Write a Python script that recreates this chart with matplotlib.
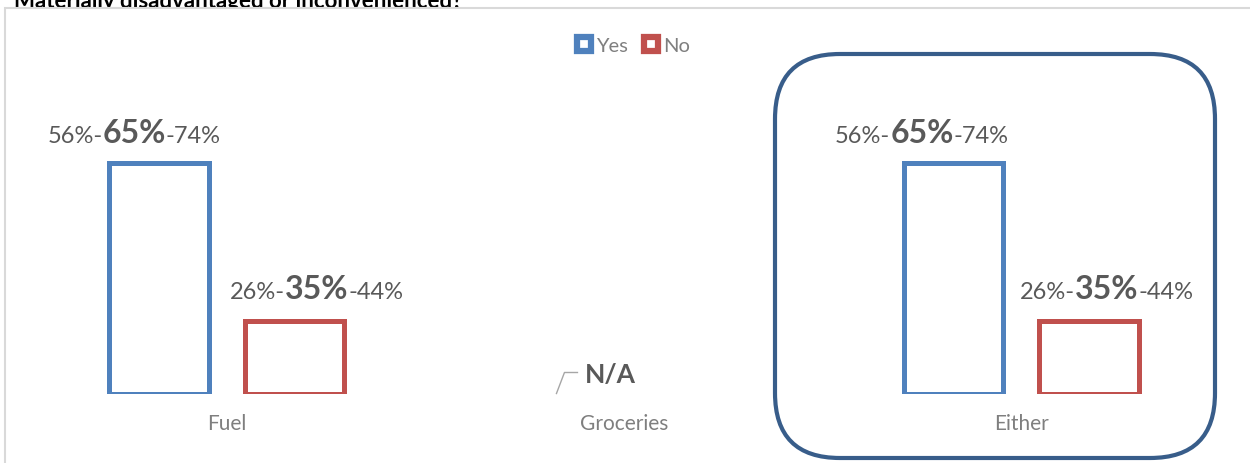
import matplotlib
matplotlib.use("Agg")
import matplotlib.pyplot as plt
from matplotlib.lines import Line2D
from matplotlib.patches import FancyBboxPatch, Rectangle
from matplotlib.transforms import IdentityTransform

# ---------------- data ----------------
title = "Materially disadvantaged or inconvenienced?"
categories = ["Fuel", "Groceries", "Either"]
series_names = ["Yes", "No"]
yes_values = [65, 0, 65]
no_values = [35, 0, 35]
yes_low = [56, None, 56]
yes_high = [74, None, 74]
no_low = [26, None, 26]
no_high = [44, None, 44]
na_label = "N/A"

# ---------------- style ----------------
FONT = "Lato"
W, H, DPI = 1250, 464, 100
BLUE = "#4F81BD"
RED = "#C0504D"
NAVY = "#385D8A"
LABEL_GREY = "#595959"
AXIS_GREY = "#7F7F7F"
YMIN, YMAX = 21.3, 88.6
BAR_W = 0.25
OFF = 0.17

plt.rcParams["font.family"] = [FONT, "DejaVu Sans"]

fig = plt.figure(figsize=(W / DPI, H / DPI), dpi=DPI)
fig.patch.set_facecolor("white")

# title (partly hidden behind the chart frame, as in the reference)
fig.text(14 / W, 1 - 8.5 / H, title, fontsize=16, fontweight="bold",
         color="black", ha="left", va="baseline", zorder=0.5)

# chart frame (white fill hides the lower part of the title)
frame = Rectangle((5, -20), 1300, (H - 9) + 20, transform=IdentityTransform(),
                  facecolor="white", edgecolor="#D9D9D9", linewidth=1.5, zorder=1)
fig.add_artist(frame)

# axes
ax_left, ax_right = 28, 1220
ax_bottom_px, ax_top_px = 394.5, 40
ax = fig.add_axes([ax_left / W, (H - ax_bottom_px) / H,
                   (ax_right - ax_left) / W, (ax_bottom_px - ax_top_px) / H])
ax.set_zorder(2)
ax.patch.set_visible(False)
ax.set_xlim(-0.5, len(categories) - 0.5)
ax.set_ylim(YMIN, YMAX)
for s in ax.spines.values():
    s.set_visible(False)
ax.set_yticks([])
ax.set_xticks(range(len(categories)))
ax.set_xticklabels(categories, fontsize=15, color=AXIS_GREY)
ax.tick_params(axis="x", length=0, pad=14)

xs = list(range(len(categories)))
for i, (yv, nv) in enumerate(zip(yes_values, no_values)):
    if yv > 0:
        ax.bar(xs[i] - OFF, yv - YMIN, bottom=YMIN, width=BAR_W, facecolor="white",
               edgecolor=BLUE, linewidth=3.6)
    if nv > 0:
        ax.bar(xs[i] + OFF, nv - YMIN, bottom=YMIN, width=BAR_W, facecolor="white",
               edgecolor=RED, linewidth=3.6)

renderer = fig.canvas.get_renderer()


def composite_label(x, y, dx, dy, low, mid, high):
    parts = [(f"{low}%-", dict(fontsize=17, fontweight="normal")),
             (f"{mid}%", dict(fontsize=23, fontweight="bold")),
             (f"-{high}%", dict(fontsize=17, fontweight="normal"))]
    widths = []
    for txt, kw in parts:
        t = fig.text(0, 0, txt, **kw)
        widths.append(t.get_window_extent(renderer).width)
        t.remove()
    total = sum(widths)
    cur = dx - total / 2
    for (txt, kw), w in zip(parts, widths):
        ax.annotate(txt, xy=(x, y), xytext=(cur, dy), textcoords="offset pixels",
                    ha="left", va="baseline", color=LABEL_GREY, **kw)
        cur += w


# per-label pixel offsets (manually placed labels in the original)
yes_dx = [-25, 0, -32]
no_dx = [22, 0, 18]
for i in xs:
    if yes_values[i] > 0:
        composite_label(xs[i] - OFF, yes_values[i], yes_dx[i], 21,
                        yes_low[i], yes_values[i], yes_high[i])
    if no_values[i] > 0:
        composite_label(xs[i] + OFF, no_values[i], no_dx[i], 23,
                        no_low[i], no_values[i], no_high[i])

# N/A label with leader line for Groceries
gi = categories.index("Groceries")
ax.annotate(na_label, xy=(gi - OFF, YMIN), xytext=(28, 11.5), textcoords="offset pixels",
            ha="left", va="baseline", fontsize=19, fontweight="bold", color=LABEL_GREY)
bx, by = ax.transData.transform((gi - OFF, YMIN))
leader = Line2D([bx, bx + 8, bx + 21], [by, by + 21, by + 21],
                transform=IdentityTransform(), color="#A6A6A6", linewidth=1.0, zorder=3)
fig.add_artist(leader)

# legend
handles = [Line2D([], [], linestyle="none", marker="s", markersize=10,
                  markerfacecolor="white", markeredgecolor=c, markeredgewidth=4.5)
           for c in (BLUE, RED)]
fig.legend(handles, series_names, loc="center", ncol=2, frameon=False,
           bbox_to_anchor=(632.5 / W, 1 - 46 / H), bbox_transform=fig.transFigure,
           fontsize=14.5, labelcolor=AXIS_GREY, handlelength=0.9, handletextpad=0.15,
           columnspacing=0.7, borderpad=0)

# highlight box around "Either"
box = FancyBboxPatch((775, H - 459), 440, 404,
                     boxstyle="round,pad=0,rounding_size=65",
                     transform=IdentityTransform(), facecolor="none",
                     edgecolor=NAVY, linewidth=3.0, zorder=4)
fig.add_artist(box)

fig.savefig("out.png", dpi=DPI)
